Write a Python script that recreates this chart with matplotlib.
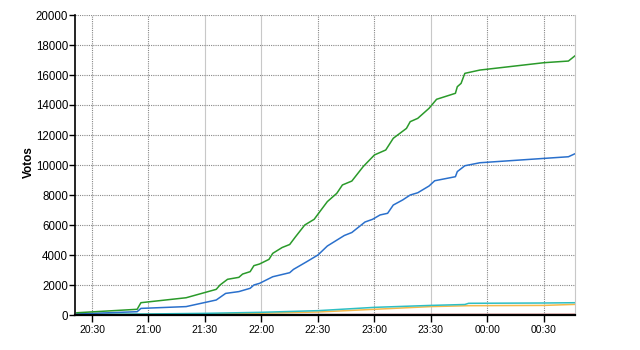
import matplotlib
matplotlib.use('Agg')
import matplotlib.pyplot as plt
import matplotlib.dates as mdates
from datetime import datetime, timedelta

# Vote counts, time as "HH:MM" (after midnight = next day)
green_times = ['20:22', '20:54', '20:56', '21:20', '21:36', '21:38', '21:42', '21:48', '21:50',
               '21:54', '21:56', '21:59', '22:04', '22:06', '22:11', '22:15', '22:18', '22:23',
               '22:28', '22:31', '22:35', '22:40', '22:43', '22:48', '22:54', '23:00', '23:06',
               '23:10', '23:17', '23:19', '23:23', '23:29', '23:33', '23:43', '23:44', '23:46',
               '23:48', '23:56', '00:30', '00:43', '00:47']
green_votes = [150, 380, 820, 1150, 1710, 2000, 2380, 2510, 2730,
               2890, 3290, 3400, 3710, 4110, 4500, 4700, 5200, 6000,
               6380, 6890, 7560, 8110, 8670, 8930, 9890, 10670, 11000,
               11780, 12440, 12890, 13110, 13780, 14380, 14780, 15220, 15440,
               16110, 16330, 16820, 16930, 17330]

blue_times = ['20:22', '20:54', '20:56', '21:20', '21:36', '21:41', '21:48', '21:54', '21:56',
              '21:59', '22:06', '22:15', '22:17', '22:24', '22:30', '22:35', '22:44', '22:48',
              '22:55', '22:59', '23:03', '23:07', '23:10', '23:15', '23:19', '23:23', '23:29',
              '23:32', '23:43', '23:44', '23:48', '23:56', '00:30', '00:43', '00:47']
blue_votes = [70, 220, 440, 560, 1000, 1440, 1560, 1780, 2000,
              2110, 2550, 2820, 3040, 3550, 4000, 4600, 5300, 5500,
              6200, 6380, 6670, 6780, 7330, 7670, 8000, 8150, 8600,
              8950, 9220, 9560, 9950, 10150, 10440, 10550, 10780]

cyan_times = ['20:22', '21:00', '21:30', '22:00', '22:30', '23:00', '23:30', '23:48', '23:50', '00:30', '00:47']
cyan_votes = [40, 70, 110, 180, 290, 510, 640, 700, 780, 800, 820]

orange_times = ['20:22', '21:00', '21:30', '22:00', '22:30', '23:00', '23:30', '23:50', '00:30', '00:47']
orange_votes = [20, 40, 70, 120, 200, 380, 560, 620, 640, 710]

pink_times = ['20:22', '22:00', '23:00', '00:47']
pink_votes = [5, 20, 35, 45]

maroon_times = ['20:22', '22:00', '23:00', '00:47']
maroon_votes = [2, 5, 10, 15]

x_ticks = ['20:30', '21:00', '21:30', '22:00', '22:30', '23:00', '23:30', '00:00', '00:30']
solid_grid = ['21:30', '22:00', '23:30']
y_ticks = list(range(0, 20001, 2000))


def to_dt(s):
    h, m = map(int, s.split(':'))
    d = datetime(2011, 5, 22, h, m)
    if h < 12:
        d += timedelta(days=1)
    return d


plt.rcParams['font.family'] = ['Liberation Sans', 'DejaVu Sans']

fig = plt.figure(figsize=(6.4, 3.5), dpi=100)
ax = fig.add_axes([75 / 640, 35 / 350, 500 / 640, 300 / 350])

series = [
    (maroon_times, maroon_votes, '#800033'),
    (pink_times, pink_votes, '#e07a7a'),
    (orange_times, orange_votes, '#f5b84a'),
    (cyan_times, cyan_votes, '#2ebfc4'),
    (blue_times, blue_votes, '#2a70cc'),
    (green_times, green_votes, '#2a9a2a'),
]
for times, votes, col in series:
    ax.plot([to_dt(t) for t in times], votes, color=col, lw=1.1)

ax.set_xlim(datetime(2011, 5, 22, 20, 21), datetime(2011, 5, 23, 0, 46, 30))
ax.set_ylim(0, 20000)
ax.set_yticks(y_ticks)
ax.set_xticks([to_dt(t) for t in x_ticks])
ax.xaxis.set_major_formatter(mdates.DateFormatter('%H:%M'))

ax.grid(True, color='#888888', linestyle=(0, (1, 1)), linewidth=0.8)
for line, t in zip(ax.xaxis.get_gridlines(), x_ticks):
    if t in solid_grid:
        line.set_linestyle('-')
        line.set_color('#c8c8c8')
ax.set_axisbelow(True)

ax.spines['top'].set_visible(False)
ax.spines['right'].set_color('#c8c8c8')
ax.spines['left'].set_linewidth(1.2)
ax.spines['bottom'].set_linewidth(1.6)

ax.tick_params(axis='y', length=4, width=1, labelsize=8.3, pad=1)
ax.tick_params(axis='x', length=5, width=1, labelsize=7.5, pad=2)
for lab in ax.get_xticklabels():
    lab.set_family(['Liberation Sans Narrow', 'Liberation Sans', 'DejaVu Sans'])

ax.set_ylabel('Votos', fontsize=8.5, fontweight='bold')
ax.yaxis.set_label_coords(-0.08, 0.51)

fig.savefig('out.png', dpi=100)
